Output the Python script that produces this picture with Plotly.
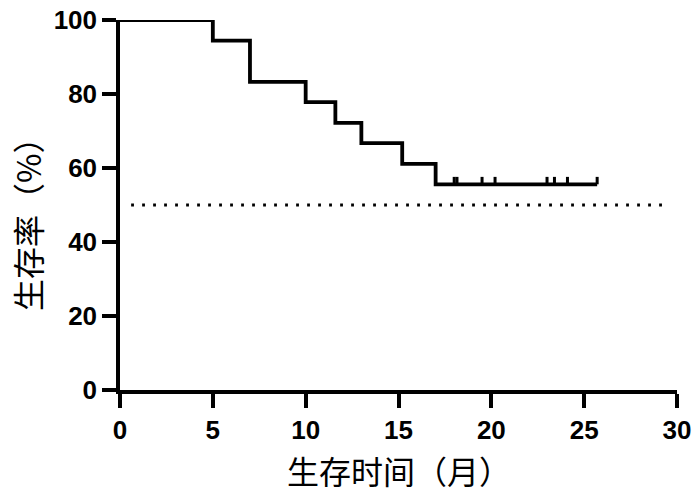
import plotly.graph_objects as go

# Kaplan-Meier data
step_times = [0, 5, 7, 10, 11.6, 13, 15.2, 17]
step_survival = [100, 94.4, 83.3, 77.8, 72.2, 66.7, 61.1, 55.6]
end_time = 25.7
censor_times = [18.0, 18.15, 19.5, 20.2, 23.0, 23.4, 24.1, 25.7]
censor_survival = [55.6] * len(censor_times)
median_level = 50
median_x = [0.6, 29.4]

x_ticks = [0, 5, 10, 15, 20, 25, 30]
y_ticks = [0, 20, 40, 60, 80, 100]
x_title = "生存时间（月）"
y_title = "生存率（%）"

tick_height = 2.0  # censor tick height in % units

fig = go.Figure()

# step curve
fig.add_trace(go.Scatter(
    x=step_times + [end_time],
    y=step_survival + [step_survival[-1]],
    mode="lines", line=dict(shape="hv", color="black", width=3.8),
    showlegend=False, hoverinfo="skip"))

# censor ticks
cx, cy = [], []
for t, s in zip(censor_times, censor_survival):
    cx += [t, t, None]
    cy += [s, s + tick_height, None]
fig.add_trace(go.Scatter(
    x=cx, y=cy, mode="lines", line=dict(color="black", width=3),
    showlegend=False, hoverinfo="skip"))

# median dotted line
fig.add_trace(go.Scatter(
    x=median_x, y=[median_level, median_level], mode="lines",
    line=dict(color="black", width=2.8, dash="2.8px,8.2px"),
    showlegend=False, hoverinfo="skip"))

tickfont = dict(family="Liberation Sans", size=26, color="black", weight="bold")
titlefont = dict(family="Noto Sans CJK SC", size=32, color="black")

fig.update_layout(
    width=700, height=494,
    margin=dict(l=112, r=31, t=12, b=112, autoexpand=False),
    paper_bgcolor="white", plot_bgcolor="white",
    xaxis=dict(range=[0, 30], tickvals=x_ticks, ticktext=[str(v) for v in x_ticks],
               showline=True, linecolor="black", linewidth=3.5,
               ticks="outside", ticklen=14, tickwidth=3.5, tickcolor="black",
               showgrid=False, zeroline=False, tickfont=tickfont, automargin=False,
               ticklabeloverflow="allow"),
    yaxis=dict(range=[0, 100], tickvals=y_ticks, ticktext=[str(v) for v in y_ticks],
               showline=True, linecolor="black", linewidth=3.5,
               ticks="outside", ticklen=14, tickwidth=3.5, tickcolor="black",
               showgrid=False, zeroline=False, tickfont=tickfont, automargin=False,
               ticklabeloverflow="allow"),
    annotations=[
        dict(text=x_title, xref="paper", yref="paper", x=0.5, y=0,
             xanchor="center", yanchor="middle", yshift=-80, showarrow=False,
             font=titlefont),
        dict(text=y_title, xref="paper", yref="paper", x=0, y=0.5,
             xanchor="center", yanchor="middle", xshift=-93, yshift=-12,
             textangle=-90, showarrow=False, font=titlefont),
    ],
)

fig.write_html("out.html")
